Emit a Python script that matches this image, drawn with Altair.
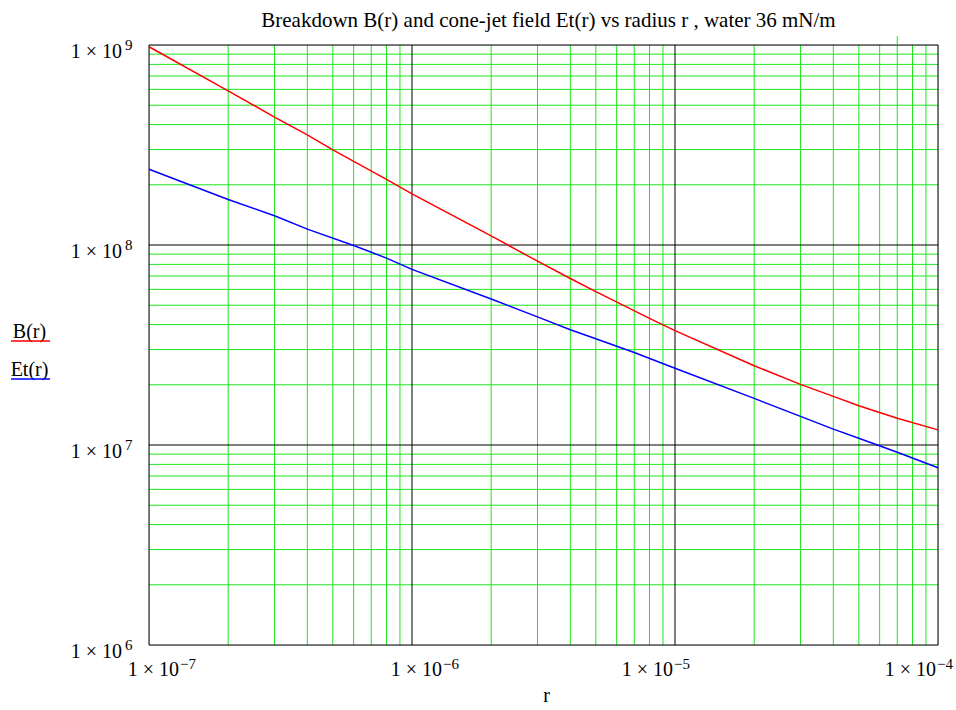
import altair as alt
import pandas as pd

# ---- data (log-log) ----
r_B = [1e-7, 2e-7, 3e-7, 4e-7, 5e-7, 8e-7, 1e-6, 2e-6, 3e-6, 4e-6, 5e-6,
       8e-6, 1e-5, 2e-5, 3e-5, 4e-5, 5e-5, 7e-5, 1e-4]
B_vals = [9.8e8, 5.9e8, 4.36e8, 3.55e8, 2.99e8, 2.13e8, 1.80e8, 1.11e8, 8.3e7,
          6.8e7, 5.85e7, 4.3e7, 3.73e7, 2.49e7, 2.01e7, 1.75e7,
          1.57e7, 1.36e7, 1.19e7]

r_E = [1e-7, 2e-7, 3e-7, 4e-7, 6e-7, 8e-7, 1e-6, 2e-6, 3e-6, 4e-6, 5e-6, 7e-6,
       1e-5, 2e-5, 3e-5, 4e-5, 5e-5, 7e-5, 1e-4]
E_vals = [2.39e8, 1.69e8, 1.40e8, 1.20e8, 9.95e7, 8.6e7, 7.55e7, 5.37e7, 4.37e7,
          3.77e7, 3.40e7, 2.90e7, 2.42e7, 1.71e7, 1.39e7, 1.20e7, 1.08e7, 9.2e6, 7.7e6]

series_names = ["B(r)", "Et(r)"]
series_colors = ["#ff0000", "#0000ff"]

x_major = [1e-7, 1e-6, 1e-5, 1e-4]
y_major = [1e9, 1e8, 1e7, 1e6]
label_base = "1 × 10"
x_exp = ["−7", "−6", "−5", "−4"]
y_exp = ["9", "8", "7", "6"]
x_minor = [m * d for d in [1e-7, 1e-6, 1e-5] for m in range(2, 10)]
y_minor = [m * d for d in [1e6, 1e7, 1e8] for m in range(2, 10)]

title_text = "Breakdown B(r) and cone-jet field Et(r) vs radius r , water 36 mN/m"
x_title = "r"

FONT = "Liberation Serif"
FS = 20
EFS = 15
GREEN = "#1ee61e"
W, H = 789, 600

lines_df = pd.concat([
    pd.DataFrame({"r": r_B, "v": B_vals, "s": series_names[0]}),
    pd.DataFrame({"r": r_E, "v": E_vals, "s": series_names[1]}),
])
xlab_df = pd.DataFrame({"r": x_major, "b": label_base, "e": x_exp})
ylab_df = pd.DataFrame({"v": y_major, "b": label_base, "e": y_exp})

xscale = alt.Scale(type="log", domain=[1e-7, 1e-4], nice=False)
yscale = alt.Scale(type="log", domain=[1e6, 1e9], nice=False)

X = lambda: alt.X("r:Q", scale=xscale, axis=None)
Y = lambda: alt.Y("v:Q", scale=yscale, axis=None)

vminor = alt.Chart(pd.DataFrame({"r": x_minor})).mark_rule(color=GREEN, strokeWidth=1).encode(x=X())
hminor = alt.Chart(pd.DataFrame({"v": y_minor})).mark_rule(color=GREEN, strokeWidth=1).encode(y=Y())
vmajor = alt.Chart(pd.DataFrame({"r": x_major})).mark_rule(color="#000000", strokeWidth=1).encode(x=X())
hmajor = alt.Chart(pd.DataFrame({"v": y_major})).mark_rule(color="#000000", strokeWidth=1).encode(y=Y())

stray = alt.Chart(pd.DataFrame({"r": [7e-5]})).mark_rule(color=GREEN, strokeWidth=1).encode(
    x=X(), y=alt.value(-9), y2=alt.value(0))

lines = alt.Chart(lines_df).mark_line(strokeWidth=1.5).encode(
    x=X(), y=Y(),
    color=alt.Color("s:N", scale=alt.Scale(domain=series_names, range=series_colors), legend=None),
)

# x tick labels: "1 × 10" + raised exponent
def xlabels(filt, split_dx):
    base = alt.Chart(xlab_df).transform_filter(filt).mark_text(
        font=FONT, fontSize=FS, color="#000", align="right", baseline="alphabetic",
        dx=split_dx).encode(x=X(), y=alt.value(H + 31), text="b:N")
    exp = alt.Chart(xlab_df).transform_filter(filt).mark_text(
        font=FONT, fontSize=EFS, color="#000", align="left", baseline="alphabetic",
        dx=split_dx + 1).encode(x=X(), y=alt.value(H + 24), text="e:N")
    return base + exp

ylab_base = alt.Chart(ylab_df).mark_text(
    font=FONT, fontSize=FS, color="#000", align="right", baseline="alphabetic", dy=13).encode(
    y=Y(), x=alt.value(-27), text="b:N")
ylab_exp = alt.Chart(ylab_df).mark_text(
    font=FONT, fontSize=EFS, color="#000", align="left", baseline="alphabetic", dy=5).encode(
    y=Y(), x=alt.value(-24), text="e:N")

def legend_item(i, ty):
    txt = alt.Chart(pd.DataFrame({"t": [series_names[i]]})).mark_text(
        font=FONT, fontSize=FS, color="#000", align="center", baseline="alphabetic").encode(
        x=alt.value(-119.5), y=alt.value(ty), text="t:N")
    rule = alt.Chart(pd.DataFrame({"t": [series_names[i]]})).mark_rule(
        color=series_colors[i], strokeWidth=1.5).encode(
        x=alt.value(-138), x2=alt.value(-99), y=alt.value(ty + 3))
    return txt + rule

title = alt.Chart(pd.DataFrame({"t": [title_text]})).mark_text(
    font=FONT, fontSize=21, color="#000", align="center", baseline="alphabetic").encode(
    x=alt.value(W / 2 + 5), y=alt.value(-18), text="t:N")
xtitle = alt.Chart(pd.DataFrame({"t": [x_title]})).mark_text(
    font=FONT, fontSize=FS, color="#000", align="center", baseline="alphabetic").encode(
    x=alt.value(W / 2 + 3), y=alt.value(H + 57), text="t:N")

chart = alt.layer(
    hminor, vminor, hmajor, vmajor, stray, lines,
    xlabels("datum.r < 5e-6", 30), xlabels("datum.r > 5e-6", -2),
    ylab_base, ylab_exp,
    legend_item(0, 293), legend_item(1, 331),
    title, xtitle,
).properties(
    width=W, height=H,
    autosize=alt.AutoSizeParams(type="none"),
    padding={"left": 149, "top": 45, "right": 18, "bottom": 65},
).configure_view(stroke="#222222", strokeWidth=1.5).configure(background="white")

chart.save("out.html", embed_options={"renderer": "svg", "actions": False})
